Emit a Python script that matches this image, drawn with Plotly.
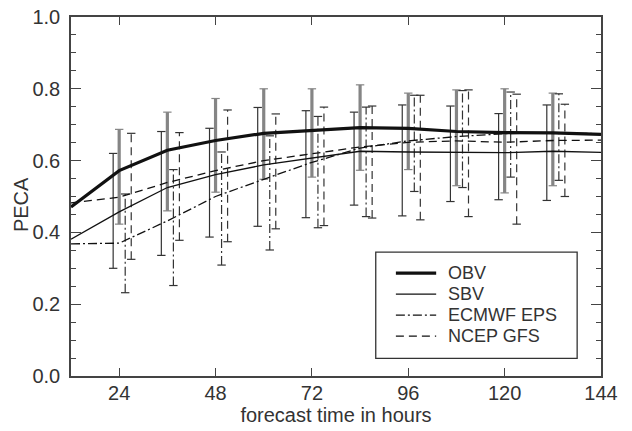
import plotly.graph_objects as go

# ---------------- data ----------------
hours = [12, 24, 36, 48, 60, 72, 84, 96, 108, 120, 132, 144]
obv = [0.471, 0.572, 0.629, 0.656, 0.676, 0.683, 0.692, 0.690, 0.681, 0.678, 0.677, 0.673]
sbv = [0.381, 0.457, 0.525, 0.561, 0.588, 0.606, 0.626, 0.624, 0.622, 0.622, 0.626, 0.623]
ecmwf = [0.368, 0.370, 0.432, 0.500, 0.548, 0.595, 0.635, 0.655, 0.667, 0.675, 0.677, 0.675]
ncep = [0.482, 0.498, 0.539, 0.572, 0.600, 0.620, 0.638, 0.651, 0.655, 0.651, 0.656, 0.657]

bar_hours = [24, 36, 48, 60, 72, 84, 96, 108, 120, 132]
sbv_lo = [0.300, 0.336, 0.387, 0.417, 0.441, 0.476, 0.446, 0.486, 0.491, 0.489]
sbv_hi = [0.620, 0.681, 0.690, 0.748, 0.739, 0.735, 0.755, 0.752, 0.731, 0.755]
obv_lo = [0.423, 0.460, 0.512, 0.548, 0.554, 0.573, 0.575, 0.530, 0.510, 0.530]
obv_hi = [0.687, 0.735, 0.773, 0.800, 0.800, 0.811, 0.788, 0.797, 0.800, 0.788]
ecm_lo = [0.232, 0.252, 0.309, 0.351, 0.413, 0.444, 0.514, 0.525, 0.554, 0.545]
ecm_hi = [0.507, 0.575, 0.624, 0.669, 0.723, 0.749, 0.782, 0.795, 0.791, 0.786]
ncep_lo = [0.325, 0.378, 0.374, 0.410, 0.419, 0.440, 0.435, 0.444, 0.423, 0.500]
ncep_hi = [0.676, 0.678, 0.741, 0.730, 0.749, 0.752, 0.782, 0.797, 0.785, 0.757]

series_names = ["OBV", "SBV", "ECMWF EPS", "NCEP GFS"]
x_ticks = [24, 48, 72, 96, 120, 144]
y_ticks = [0.0, 0.2, 0.4, 0.6, 0.8, 1.0]

# ---------------- styles ----------------
INK = "#111111"
TXT = "#333333"
AX = "#444444"
GRAY = "#858585"
DASH = "8px,5px"
DASHDOT = "9px,3px,2px,3px"
FONT = "Liberation Sans, Arial, sans-serif"

fig = go.Figure()


def add_bars(offset, lo, hi, color, width, dash):
    xs, ys = [], []
    for h, a, b in zip(bar_hours, lo, hi):
        xs += [h + offset, h + offset, None]
        ys += [a, b, None]
    fig.add_trace(go.Scatter(x=xs, y=ys, mode="lines", showlegend=False,
                             hoverinfo="skip",
                             line=dict(color=color, width=width, dash=dash)))
    cx = [h + offset for h in bar_hours] * 2
    cy = list(lo) + list(hi)
    fig.add_trace(go.Scatter(x=cx, y=cy, mode="markers", showlegend=False,
                             hoverinfo="skip",
                             marker=dict(symbol="line-ew", size=6,
                                         line=dict(color=color, width=1.2))))


# error bars: SBV left, OBV centre, ECMWF right, NCEP further right
add_bars(-1.5, sbv_lo, sbv_hi, "#333333", 1.2, "solid")
add_bars(0.0, obv_lo, obv_hi, GRAY, 3.2, "solid")
add_bars(1.5, ecm_lo, ecm_hi, "#333333", 1.2, DASHDOT)
add_bars(3.0, ncep_lo, ncep_hi, "#333333", 1.2, DASH)

# mean curves
fig.add_trace(go.Scatter(x=hours, y=ncep, mode="lines", name=series_names[3],
                         line=dict(color=INK, width=1.3, dash=DASH)))
fig.add_trace(go.Scatter(x=hours, y=ecmwf, mode="lines", name=series_names[2],
                         line=dict(color=INK, width=1.3, dash=DASHDOT)))
fig.add_trace(go.Scatter(x=hours, y=sbv, mode="lines", name=series_names[1],
                         line=dict(color=INK, width=1.3)))
fig.add_trace(go.Scatter(x=hours, y=obv, mode="lines", name=series_names[0],
                         line=dict(color=INK, width=3.2)))

# ---------------- manual legend ----------------
box = dict(x0=0.575, x1=0.955, y0=0.049, y1=0.345)
fig.add_shape(type="rect", xref="paper", yref="paper", **box,
              line=dict(color="#333333", width=1.3), fillcolor="white", layer="above")
rows = [0.2865, 0.228, 0.1695, 0.111]
styles = [(3.2, "solid"), (1.3, "solid"), (1.3, DASHDOT), (1.3, DASH)]
for name, yy, (w, d) in zip(series_names, rows, styles):
    fig.add_shape(type="line", xref="paper", yref="paper", x0=0.613, x1=0.689,
                  y0=yy, y1=yy, line=dict(color=INK, width=w, dash=d), layer="above")
    fig.add_annotation(xref="paper", yref="paper", x=0.708, y=yy, text=name,
                       showarrow=False, xanchor="left", yanchor="middle",
                       font=dict(family=FONT, size=18, color=TXT))

# y-axis title as rotated text
fig.add_annotation(xref="paper", yref="paper", x=-0.093, y=0.478, text="PECA",
                   textangle=-90, showarrow=False, xanchor="center", yanchor="middle",
                   font=dict(family=FONT, size=20, color=TXT))

axis_common = dict(showline=True, linecolor=AX, linewidth=1.5,
                   ticks="inside", tickcolor=AX, tickwidth=1.3,
                   showgrid=False, zeroline=False, ticklabeloverflow="allow",
                   tickfont=dict(family=FONT, size=20, color=TXT))

fig.update_layout(
    width=632, height=431,
    margin=dict(l=71, r=31, t=6, b=55),
    paper_bgcolor="white", plot_bgcolor="white",
    showlegend=False,
    font=dict(family=FONT, color=TXT),
    xaxis=dict(range=[12, 144], tickvals=x_ticks, ticklen=8, mirror="ticks",
               ticklabelstandoff=-2,
               title=dict(text="forecast time in hours",
                          font=dict(family=FONT, size=20, color=TXT), standoff=4),
               **axis_common),
    yaxis=dict(range=[0, 1], tickvals=y_ticks, tickformat=".1f", ticklen=10,
               ticklabelstandoff=5,
               minor=dict(dtick=0.05, ticklen=5, ticks="inside", tickcolor=AX,
                          tickwidth=1.2),
               **axis_common),
    yaxis2=dict(range=[0, 1], tickvals=y_ticks, ticklen=10, overlaying="y",
                side="right", showticklabels=False,
                showline=True, linecolor=AX, linewidth=1.5,
                ticks="inside", tickcolor=AX, tickwidth=1.3,
                showgrid=False, zeroline=False,
                minor=dict(dtick=0.05, ticklen=5, ticks="inside", tickcolor=AX,
                           tickwidth=1.2)),
)
# an empty trace anchors the right-hand axis so its ticks are drawn
fig.add_trace(go.Scatter(x=[None], y=[None], yaxis="y2", showlegend=False,
                         hoverinfo="skip"))

fig.write_html("out.html")
